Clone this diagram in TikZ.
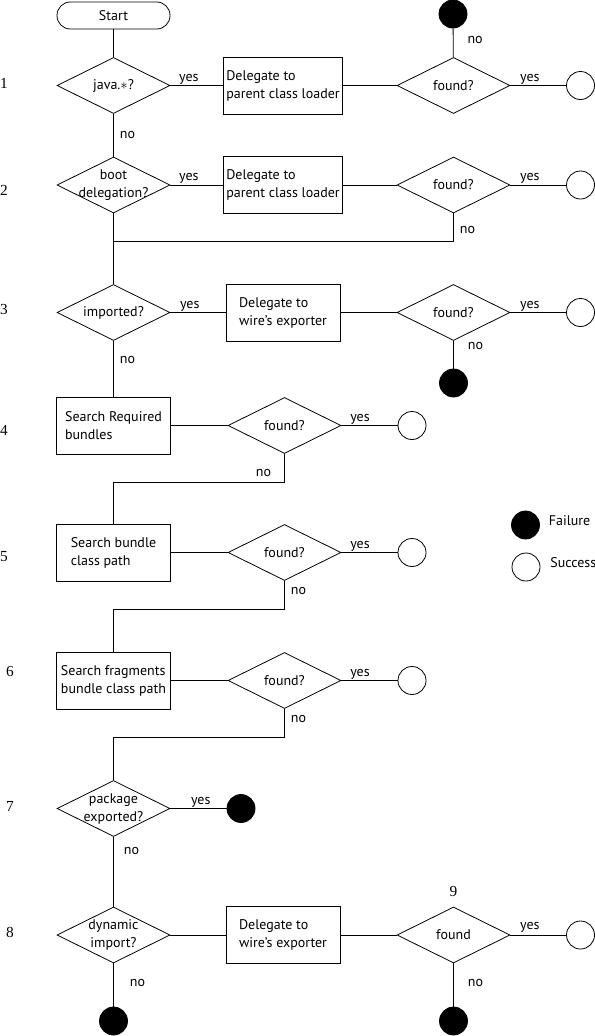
\documentclass[tikz,border=0pt]{standalone}
\usepackage{fontspec}
\setmainfont{PT Sans}
\newfontfamily\numfont{Liberation Serif}
\usepackage{tikz}
\usetikzlibrary{shapes.geometric}

\tikzset{
  term/.style={draw, rectangle, rounded corners=10pt, minimum width=84.75pt, minimum height=20.25pt, inner sep=1pt},
  proc/.style={draw, rectangle, minimum width=85.5pt, minimum height=42.75pt, align=left, inner sep=2pt},
  dec/.style={draw, diamond, minimum width=84.75pt, minimum height=42pt, inner sep=0pt},
  succ/.style={draw, circle, minimum size=21pt, inner sep=0pt},
  fail/.style={draw, circle, fill=black, minimum size=21pt, inner sep=0pt},
  lbl/.style={inner sep=0.75pt, align=center},
  rownum/.style={font=\numfont\fontsize{11.5}{13}\selectfont, inner sep=0.75pt},
}

\begin{document}
\begin{tikzpicture}[x=0.75pt,y=0.75pt,yscale=-1,xscale=1, line width=0.6pt, font=\fontsize{10.5}{13.5}\selectfont]
\useasboundingbox (0,0) rectangle (595,1036);

% Row 1
\node[term] (start) at (113.5,15.5) {Start};
\node[dec, label={[lbl]center:java.$\ast$?}] (d1) at (113.5,85.5) {};
\node[proc] (b1) at (283,85.5) {Delegate to\\parent class loader};
\node[dec, label={[lbl]center:found?}] (f1) at (453.5,85.5) {};
\node[succ] (s1) at (580.5,85.5) {};
\node[fail] (x1) at (453,14) {};
\node[rownum] (n1) at (4,83) {1};

% Row 2
\node[dec, label={[lbl]center:boot\\delegation?}] (d2) at (113.5,185) {};
\node[proc] (b2) at (283,185) {Delegate to\\parent class loader};
\node[dec, label={[lbl]center:found?}] (f2) at (453.5,185) {};
\node[succ] (s2) at (580.5,185) {};
\coordinate (c2) at (113.5,241.5);
\node[rownum] (n2) at (4,190) {2};

% Row 3
\node[dec, label={[lbl]center:imported?}] (d3) at (113.5,312.5) {};
\node[proc] (b3) at (283,312.5) {Delegate to\\wire’s exporter};
\node[dec, label={[lbl]center:found?}] (f3) at (453.5,312.5) {};
\node[succ] (s3) at (580.5,312.5) {};
\node[fail] (x3) at (453.5,383) {};
\node[rownum] (n3) at (4,309) {3};

% Row 4
\node[proc] (b4) at (113.5,425.5) {Search Required\\bundles};
\node[dec, label={[lbl]center:found?}] (d4) at (284.5,425.5) {};
\node[succ] (s4) at (412,425.5) {};
\node[rownum] (n4) at (4,430) {4};

% Row 5
\node[proc] (b5) at (113.5,552.5) {Search bundle\\class path};
\node[dec, label={[lbl]center:found?}] (d5) at (284.5,552.5) {};
\node[succ] (s5) at (412,552.5) {};
\node[rownum] (n5) at (4,557) {5};

% Row 6
\node[proc] (b6) at (113.5,680.5) {Search fragments\\bundle class path};
\node[dec, label={[lbl]center:found?}] (d6) at (284.5,680.5) {};
\node[succ] (s6) at (412,680.5) {};
\node[rownum] (n6) at (10,671) {6};

% Row 7
\node[dec, label={[lbl]center:package\\exported?}] (d7) at (113.5,808.5) {};
\node[fail] (x7) at (241,808.5) {};
\node[rownum] (n7) at (10,806) {7};

% Row 8
\node[dec, label={[lbl]center:dynamic\\import?}] (d8) at (113.5,935) {};
\node[proc] (b8) at (283,935) {Delegate to\\wire’s exporter};
\node[dec, label={[lbl]center:found}] (f8) at (453.5,935) {};
\node[succ] (s8) at (580.5,935) {};
\node[fail] (x8a) at (113.5,1021) {};
\node[fail] (x8b) at (453.5,1021) {};
\node[rownum] (n8) at (10,932) {8};
\node[rownum] (n9) at (453.5,891) {9};

% Legend
\node[fail] (lf) at (525.5,525) {};
\node[lbl, anchor=west] (lft) at (547.5,521) {Failure};
\node[succ] (ls) at (526,567) {};
\node[lbl, anchor=west] (lst) at (549,563) {Success};

% Connectors
\draw (start) -- (d1);
\draw (d1) -- node[lbl, pos=.35, above=0pt] {yes} (b1);
\draw (b1) -- (f1);
\draw (f1) -- node[lbl, pos=.35, above=0pt] {yes} (s1);
\draw (f1) -- node[lbl, pos=.6, right=9.75pt] {no} (x1);
\draw (d1) -- node[lbl, pos=.5, right=3.75pt] {no} (d2);

\draw (d2) -- node[lbl, pos=.35, above=0pt] {yes} (b2);
\draw (b2) -- (f2);
\draw (f2) -- node[lbl, pos=.35, above=0pt] {yes} (s2);
\draw (f2.south) |- node[lbl, pos=.3, right=3.75pt] {no} (c2);
\draw (d2) -- (d3);

\draw (d3) -- node[lbl, pos=.35, above=0pt] {yes} (b3);
\draw (b3) -- (f3);
\draw (f3) -- node[lbl, pos=.35, above=0pt] {yes} (s3);
\draw (f3) -- node[lbl, pos=.2, right=9.75pt] {no} (x3);
\draw (d3) -- node[lbl, pos=.35, right=3.75pt] {no} (b4);

\draw (b4) -- (d4);
\draw (d4) -- node[lbl, pos=.33, above=0pt] {yes} (s4);
\draw (d4.south) -- node[lbl, pos=.68, left=9pt] {no} ++(0,28.5) -| (b5.north);

\draw (b5) -- (d5);
\draw (d5) -- node[lbl, pos=.33, above=0pt] {yes} (s5);
\draw (d5.south) -- node[lbl, pos=.35, right=3.75pt] {no} ++(0,28.5) -| (b6.north);

\draw (b6) -- (d6);
\draw (d6) -- node[lbl, pos=.33, above=0pt] {yes} (s6);
\draw (d6.south) -- node[lbl, pos=.35, right=3.75pt] {no} ++(0,28.5) -| (d7.north);

\draw (d7) -- node[lbl, pos=.54, above=0pt] {yes} (x7);
\draw (d7) -- node[lbl, pos=.2, right=6.75pt] {no} (d8);

\draw (d8) -- (b8);
\draw (b8) -- (f8);
\draw (f8) -- node[lbl, pos=.35, above=1pt] {yes} (s8);
\draw (d8) -- node[lbl, pos=.45, right=11.25pt] {no} (x8a);
\draw (f8) -- node[lbl, pos=.45, right=9.75pt] {no} (x8b);

\end{tikzpicture}
\end{document}
